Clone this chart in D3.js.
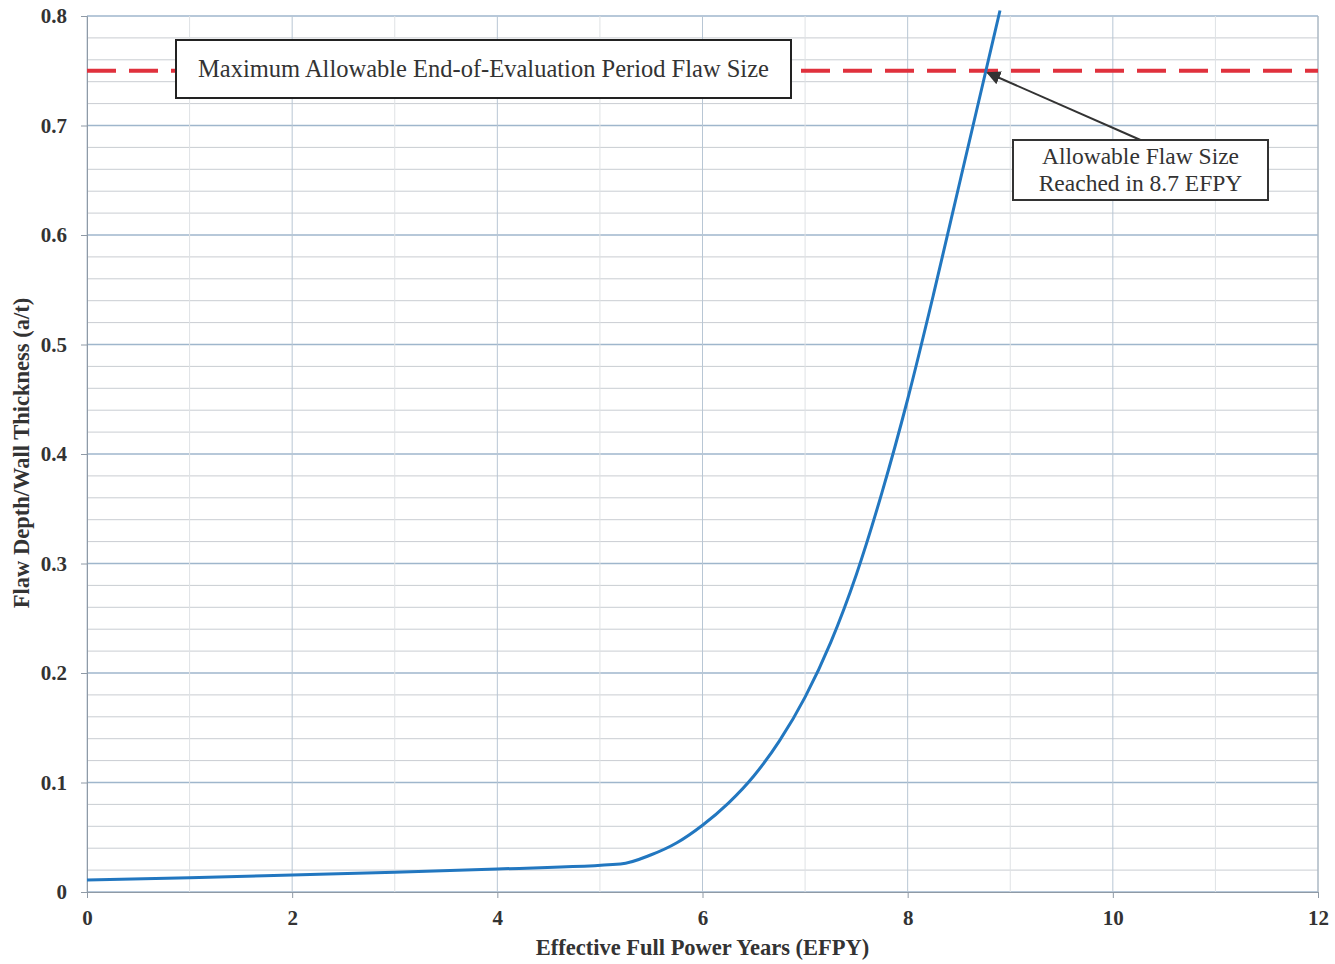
<!DOCTYPE html>
<html>
<head>
<meta charset="utf-8">
<script src="https://cdn.jsdelivr.net/npm/d3@7"></script>
<style>
  body { margin: 0; background: #fff; }
  text { font-family: "Liberation Serif", "DejaVu Serif", serif; }
</style>
</head>
<body>
<div id="chart"></div>
<script>
// data
const efpy       = [0, 1, 2, 3, 4, 5.2, 5.5, 5.75, 6, 6.25, 6.5, 6.75, 7, 7.25, 7.5, 7.75, 8, 8.25, 8.5, 8.75, 8.9];
const flawRatio  = [0.011, 0.013, 0.0155, 0.018, 0.021, 0.0255, 0.034, 0.045, 0.061, 0.081, 0.106, 0.138, 0.178, 0.228, 0.29, 0.365, 0.45, 0.545, 0.645, 0.745, 0.805];
const xTicks = [0, 2, 4, 6, 8, 10, 12];
const yTicks = [0, 0.1, 0.2, 0.3, 0.4, 0.5, 0.6, 0.7, 0.8];
const allowable = 0.75;
const reachedAt = 8.76;
const limitLabel = "Maximum Allowable End-of-Evaluation Period Flaw Size";
const calloutLines = ["Allowable Flaw Size", "Reached in 8.7 EFPY"];

const W = 1335, H = 964;
const margin = {top: 16, right: 17, bottom: 72, left: 87},
    width = W - margin.left - margin.right,
    height = H - margin.top - margin.bottom;

const svg = d3.select("#chart")
    .append("svg")
    .attr("width", W)
    .attr("height", H)
    .append("g")
    .attr("transform", `translate(${margin.left},${margin.top})`);

const x = d3.scaleLinear().domain([0, 12]).range([0, width]);
const y = d3.scaleLinear().domain([0, 0.8]).range([height, 0]);

// minor horizontal grid every 0.02
svg.append("g")
    .selectAll("line")
    .data(d3.range(0, 0.8001, 0.02))
    .enter().append("line")
    .attr("x1", 0).attr("x2", width)
    .attr("y1", d => y(d)).attr("y2", d => y(d))
    .attr("stroke", (d, i) => i % 5 === 0 ? "#9fb6cc" : "#c9cdd2")
    .attr("stroke-width", (d, i) => i % 5 === 0 ? 1.4 : 1);

// vertical grid every 1 year
svg.append("g")
    .selectAll("line")
    .data(d3.range(0, 12.001, 1))
    .enter().append("line")
    .attr("x1", d => x(d)).attr("x2", d => x(d))
    .attr("y1", 0).attr("y2", height)
    .attr("stroke", (d, i) => i % 2 === 0 ? "#b8c6d4" : "#dfe2e5")
    .attr("stroke-width", 1);

// axes
const xAxis = svg.append("g")
    .attr("transform", `translate(0,${height})`)
    .call(d3.axisBottom(x).tickValues(xTicks).tickSize(6).tickPadding(12).tickFormat(d3.format("d")));
const yAxis = svg.append("g")
    .call(d3.axisLeft(y).tickValues(yTicks).tickSize(6).tickPadding(14)
        .tickFormat(d => d === 0 ? "0" : d3.format(".1f")(d)));

[xAxis, yAxis].forEach(a => {
    a.select(".domain").attr("stroke", "#8f9aa6");
    a.selectAll(".tick line").attr("stroke", "#8f9aa6");
    a.selectAll("text")
        .attr("fill", "#333")
        .style("font-size", "21px")
        .style("font-weight", "bold")
        .style("font-family", "'Liberation Serif', serif");
});

// right border
svg.append("line")
    .attr("x1", width).attr("x2", width)
    .attr("y1", 0).attr("y2", height)
    .attr("stroke", "#a6b1bc");

// axis titles
svg.append("text")
    .attr("x", width / 2)
    .attr("y", height + 63)
    .attr("text-anchor", "middle")
    .attr("fill", "#333")
    .style("font-size", "22.5px")
    .style("font-weight", "bold")
    .text("Effective Full Power Years (EFPY)");

svg.append("text")
    .attr("transform", "rotate(-90)")
    .attr("x", -y(0.4) + 1)
    .attr("y", -margin.left + 29)
    .attr("text-anchor", "middle")
    .attr("fill", "#333")
    .style("font-size", "22.5px")
    .style("font-weight", "bold")
    .text("Flaw Depth/Wall Thickness (a/t)");

// allowable limit
svg.append("line")
    .attr("x1", 0).attr("x2", width)
    .attr("y1", y(allowable)).attr("y2", y(allowable))
    .attr("stroke", "#e0313d")
    .attr("stroke-width", 4)
    .attr("stroke-dasharray", "29,13");

// crack growth curve
const pts = efpy.map((t, i) => [t, flawRatio[i]]);
svg.append("path")
    .datum(pts)
    .attr("fill", "none")
    .attr("stroke", "#2277c0")
    .attr("stroke-width", 3)
    .attr("d", d3.line()
        .x(d => x(d[0]))
        .y(d => y(d[1]))
        .curve(d3.curveMonotoneX));

// limit label box
const box1 = {x: 176 - margin.left, y: 40 - margin.top, w: 615, h: 58};
svg.append("rect")
    .attr("x", box1.x).attr("y", box1.y)
    .attr("width", box1.w).attr("height", box1.h)
    .attr("fill", "#fff")
    .attr("stroke", "#222")
    .attr("stroke-width", 2);
svg.append("text")
    .attr("x", box1.x + box1.w / 2)
    .attr("y", box1.y + box1.h / 2 + 8)
    .attr("text-anchor", "middle")
    .attr("fill", "#333")
    .style("font-size", "24.5px")
    .text(limitLabel);

// callout with arrow
svg.append("defs").append("marker")
    .attr("id", "arrow")
    .attr("viewBox", "0 0 10 10")
    .attr("refX", 9).attr("refY", 5)
    .attr("markerWidth", 7).attr("markerHeight", 7)
    .attr("orient", "auto")
    .append("path")
    .attr("d", "M0,0 L10,5 L0,10 z")
    .attr("fill", "#333");

const box2 = {x: 1013 - margin.left, y: 140 - margin.top, w: 255, h: 60};
svg.append("line")
    .attr("x1", box2.x + box2.w / 2).attr("y1", box2.y)
    .attr("x2", x(reachedAt) + 2).attr("y2", y(allowable) + 2)
    .attr("stroke", "#333")
    .attr("stroke-width", 2)
    .attr("marker-end", "url(#arrow)");
svg.append("rect")
    .attr("x", box2.x).attr("y", box2.y)
    .attr("width", box2.w).attr("height", box2.h)
    .attr("fill", "#fff")
    .attr("stroke", "#333")
    .attr("stroke-width", 2);
svg.append("g")
    .selectAll("text")
    .data(calloutLines)
    .enter().append("text")
    .attr("x", box2.x + box2.w / 2)
    .attr("y", (d, i) => box2.y + 24 + i * 27)
    .attr("text-anchor", "middle")
    .attr("fill", "#333")
    .style("font-size", "23.5px")
    .text(d => d);
</script>
</body>
</html>
